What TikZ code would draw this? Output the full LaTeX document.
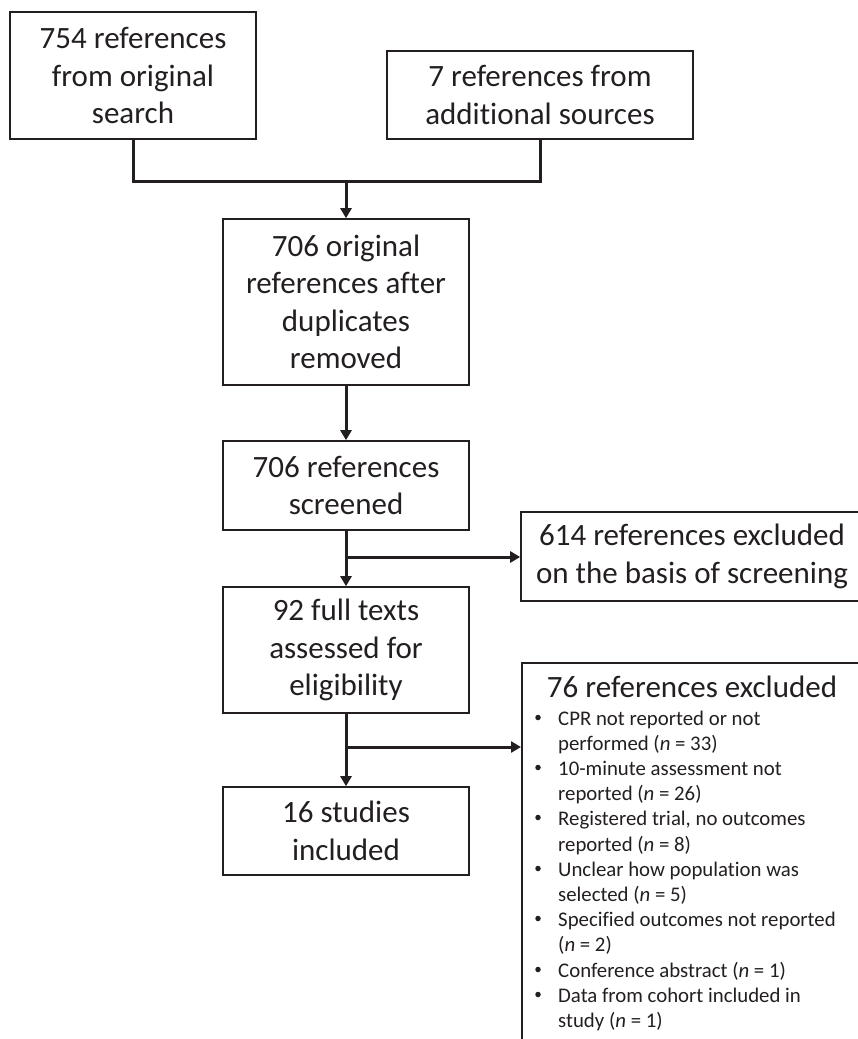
\documentclass[tikz,border=0pt]{standalone}
\usepackage{fontspec}
\setmainfont{Carlito}[Ligatures=NoCommon]
\usetikzlibrary{arrows.meta}
\definecolor{ink}{HTML}{231F20}
\begin{document}
\begin{tikzpicture}[x=1pt,y=-1pt,
  box/.style={draw=ink, line width=1.6pt, text=ink, align=center, inner sep=0pt,
    font=\fontsize{31pt}{37.5pt}\selectfont},
  conn/.style={draw=ink, line width=3pt},
  arr/.style={conn, -{Triangle[length=10pt,width=11pt]}},
  item/.style={text=ink, anchor=base west, inner sep=0pt,
    font=\fontsize{20.8pt}{25pt}\selectfont},
  bul/.style={fill=ink, circle, inner sep=0pt, minimum size=5.5pt},
]
\fill[white] (0,0) rectangle (858,1039);
\useasboundingbox (0,0) rectangle (858,1039);

\node[box, minimum width=246pt, minimum height=127pt] (src1) at (133,75.5) {754 references\\from original\\search};
\node[box, minimum width=306pt, minimum height=88pt] (src2) at (540,95) {7 references from\\additional sources};
\node[box, minimum width=246pt, minimum height=166pt] (dedup) at (346,302) {706 original\\references after\\duplicates\\removed};
\node[box, minimum width=246pt, minimum height=89pt] (screen) at (346,485.5) {706 references\\screened};
\node[box, minimum width=246pt, minimum height=126pt] (full) at (346,650) {92 full texts\\assessed for\\eligibility};
\node[box, minimum width=246pt, minimum height=88pt] (incl) at (346,831) {16 studies\\included};
\node[box, minimum width=342pt, minimum height=89pt] (exc1) at (692,556.5) {614 references excluded\\on the basis of screening};
\node[draw=ink, line width=1.6pt, minimum width=342pt, minimum height=400pt, anchor=north west, inner sep=0pt] (exc2) at (521,662) {};
\node[text=ink, anchor=base, inner sep=0pt, font=\fontsize{31pt}{37.5pt}\selectfont] (exc2title) at (692,697) {76 references excluded};

\foreach \y/\t [count=\i] in {
  725/{CPR not reported or not},
  750/{performed (\textit{n} = 33)},
  775/{10-minute assessment not},
  800/{reported (\textit{n} = 26)},
  825/{Registered trial, no outcomes},
  851/{reported (\textit{n} = 8)},
  876/{Unclear how population was},
  901/{selected (\textit{n} = 5)},
  926/{Specified outcomes not reported},
  951/{(\textit{n} = 2)},
  977/{Conference abstract (\textit{n} = 1)},
  1002/{Data from cohort included in},
  1027/{study (\textit{n} = 1)}}
  \node[item] (line\i) at (558,\y) {\t};

\foreach \y [count=\i] in {725,775,825,876,926,977,1002}
  \node[bul] (bul\i) at (538,\y-7.5) {};

\coordinate (j1) at (346,181);
\draw[conn] (src1.south) |- (j1) -| (src2.south);
\draw[arr] (j1) -- (dedup.north);
\draw[arr] (dedup.south) -- (screen.north);
\draw[arr] (screen.south) -- (full.north);
\coordinate (j2) at (346,557);
\draw[arr] (j2) -- (exc1.west |- j2);
\draw[arr] (full.south) -- (incl.north);
\coordinate (j3) at (346,747);
\draw[arr] (j3) -- (exc2.west |- j3);
\end{tikzpicture}
\end{document}
